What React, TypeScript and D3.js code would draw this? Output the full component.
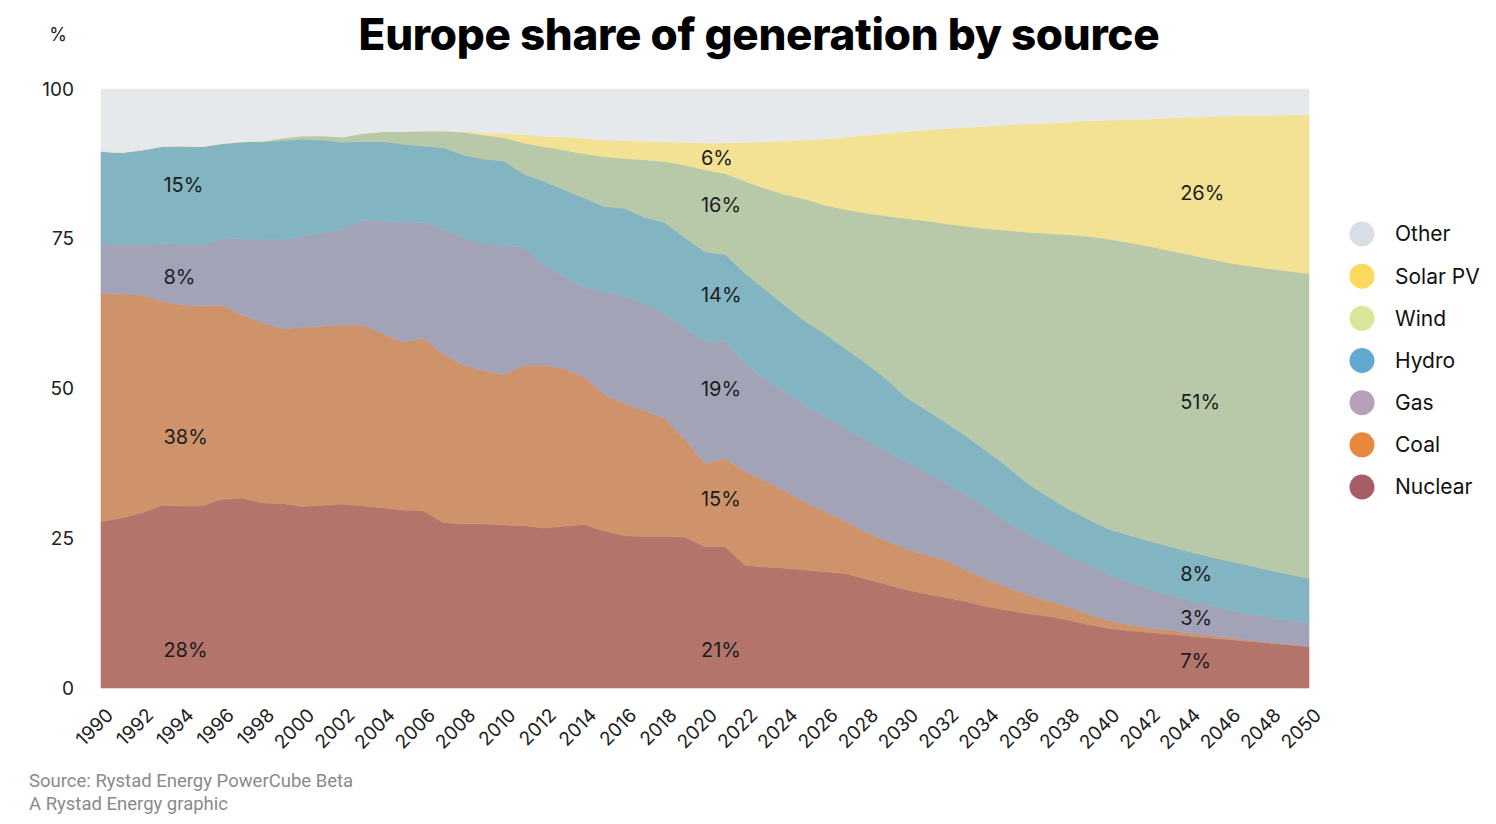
import { useEffect, useRef } from 'react'
import * as d3 from 'd3'

const years = d3.range(1990, 2051)

const nuclear = [
  27.8, 28.4, 29.2, 30.5, 30.4, 30.4, 31.5, 31.7, 30.9, 30.8, 30.3, 30.5, 30.7, 30.4, 30.1, 29.7, 29.6, 27.6, 27.4, 27.4,
  27.2, 27.1, 26.7, 27.0, 27.3, 26.2, 25.4, 25.3, 25.3, 25.2, 23.6, 23.6, 20.5, 20.2, 20.0, 19.7, 19.4, 19.1, 18.2, 17.3,
  16.4, 15.7, 15.1, 14.4, 13.6, 13.0, 12.4, 12.0, 11.4, 10.6, 10.0, 9.6, 9.3, 9.0, 8.7, 8.4, 8.1, 7.8, 7.5, 7.2, 6.9,
]
const coal = [
  38.1, 37.4, 36.4, 34.1, 33.6, 33.4, 32.4, 30.6, 30.1, 29.2, 29.9, 29.9, 29.9, 30.2, 29.1, 28.1, 28.8, 28.2, 26.5, 25.6,
  25.1, 26.8, 27.2, 26.3, 24.7, 22.8, 22.1, 21.0, 19.7, 16.3, 13.9, 14.7, 15.6, 14.4, 12.8, 11.3, 10.0, 8.7, 7.8, 7.3,
  6.8, 6.5, 6.2, 5.2, 4.6, 3.8, 3.2, 2.6, 2.2, 1.8, 1.3, 1.0, 0.8, 0.7, 0.5, 0.4, 0.3, 0.2, 0.1, 0.1, 0.1,
]
const gas = [
  8.3, 8.2, 8.4, 9.6, 10.1, 10.2, 11.2, 12.7, 13.8, 14.9, 15.2, 15.6, 16.0, 17.5, 18.8, 20.0, 19.3, 20.8, 21.3, 21.2,
  21.6, 19.7, 16.7, 15.5, 14.8, 17.2, 17.9, 17.9, 17.5, 18.7, 20.4, 19.7, 18.1, 17.0, 16.6, 16.2, 15.8, 15.6, 15.4, 15.0,
  14.6, 13.8, 12.9, 12.6, 11.8, 11.0, 10.2, 9.4, 8.6, 8.2, 7.7, 7.2, 6.5, 5.9, 5.5, 5.1, 4.7, 4.4, 4.2, 4.0, 3.8,
]
const hydro = [
  15.4, 15.4, 15.8, 16.2, 16.4, 16.4, 15.8, 16.2, 16.4, 16.5, 16.2, 15.5, 14.5, 13.1, 13.2, 13.0, 12.8, 13.6, 13.8, 14.1,
  14.1, 12.2, 14.0, 14.4, 15.0, 14.2, 14.7, 14.4, 15.2, 15.0, 14.9, 14.4, 15.0, 14.9, 14.4, 14.0, 13.8, 13.2, 12.8, 12.0,
  10.7, 10.4, 10.0, 9.8, 9.5, 9.2, 8.4, 8.0, 7.8, 7.6, 7.6, 7.8, 8.0, 8.1, 8.1, 8.1, 8.1, 8.1, 7.9, 7.7, 7.5,
]
const wind = [
  0, 0, 0, 0, 0, 0, 0, 0, 0.1, 0.4, 0.6, 0.7, 0.9, 1.4, 1.7, 2.1, 2.5, 2.8, 3.8, 4.0,
  3.9, 5.2, 5.8, 6.6, 7.4, 8.3, 8.3, 9.6, 10.2, 12.1, 13.7, 13.5, 15.4, 16.9, 18.6, 20.4, 21.6, 23.3, 25.1, 27.2,
  29.9, 31.6, 33.3, 35.1, 37.2, 39.4, 41.9, 43.9, 45.7, 47.2, 48.4, 48.8, 49.2, 49.4, 49.6, 49.7, 49.8, 50.0, 50.3, 50.6, 50.9,
]
const solar = [
  0, 0, 0, 0, 0, 0, 0, 0, 0, 0, 0, 0, 0, 0, 0, 0, 0, 0, 0.1, 0.4,
  0.7, 1.4, 1.7, 2.2, 2.6, 2.8, 3.0, 3.1, 3.3, 3.8, 4.5, 5.1, 6.5, 7.8, 8.9, 9.9, 11.1, 12.1, 13.0, 13.8,
  14.5, 15.2, 15.9, 16.5, 17.1, 17.6, 18.1, 18.4, 18.8, 19.3, 19.8, 20.5, 21.2, 22.1, 22.9, 23.7, 24.5, 25.1, 25.6, 26.1, 26.5,
]

const sources = ['Nuclear', 'Coal', 'Gas', 'Hydro', 'Wind', 'Solar PV', 'Other']
const legendOrder = ['Other', 'Solar PV', 'Wind', 'Hydro', 'Gas', 'Coal', 'Nuclear']
const yTicks = [0, 25, 50, 75, 100]
const xTicks = d3.range(1990, 2051, 2)

// in-chart value labels: text, year, share position
const annotations = [
  { text: '15%', year: 1993.1, v: 84.0 },
  { text: '8%', year: 1993.1, v: 68.6 },
  { text: '38%', year: 1993.1, v: 41.9 },
  { text: '28%', year: 1993.1, v: 6.3 },
  { text: '6%', year: 2019.8, v: 88.5 },
  { text: '16%', year: 2019.8, v: 80.6 },
  { text: '14%', year: 2019.8, v: 65.6 },
  { text: '19%', year: 2019.8, v: 50.0 },
  { text: '15%', year: 2019.8, v: 31.6 },
  { text: '21%', year: 2019.8, v: 6.3 },
  { text: '26%', year: 2043.6, v: 82.6 },
  { text: '51%', year: 2043.6, v: 47.7 },
  { text: '8%', year: 2043.6, v: 19.0 },
  { text: '3%', year: 2043.6, v: 11.7 },
  { text: '7%', year: 2043.6, v: 4.5 },
]

const areaColor: Record<string, string> = {
  Nuclear: '#b3746c',
  Coal: '#cf936b',
  Gas: '#a3a3b7',
  Hydro: '#83b4c2',
  Wind: '#b8c9aa',
  'Solar PV': '#f3e294',
  Other: '#e6e9ec',
}
const legendColor: Record<string, string> = {
  Other: '#d8dee6',
  'Solar PV': '#fcd95c',
  Wind: '#dbe69b',
  Hydro: '#62a9d0',
  Gas: '#b6a1b9',
  Coal: '#e8883f',
  Nuclear: '#a65e66',
}

const FONT = 'Inter, "Noto Sans", sans-serif'

export default function App() {
  const ref = useRef<SVGSVGElement | null>(null)
  useEffect(() => {
    const W = 1496
    const H = 824
    const svg = d3.select(ref.current).attr('width', W).attr('height', H)
    svg.selectAll('*').remove()

    const rows = years.map((yr, i) => {
      const known = nuclear[i] + coal[i] + gas[i] + hydro[i] + wind[i] + solar[i]
      return {
        year: yr,
        Nuclear: nuclear[i],
        Coal: coal[i],
        Gas: gas[i],
        Hydro: hydro[i],
        Wind: wind[i],
        'Solar PV': solar[i],
        Other: Math.max(0, 100 - known),
      } as Record<string, number>
    })

    const x = d3.scaleLinear().domain([1990, 2050]).range([101, 1309])
    const y = d3.scaleLinear().domain([0, 100]).range([688, 89])

    const stack = d3.stack<Record<string, number>>().keys(sources)
    const layers = stack(rows)

    const area = d3
      .area<any>()
      .x((d: any) => x(d.data.year))
      .y0((d: any) => y(d[0]))
      .y1((d: any) => y(d[1]))
      .curve(d3.curveLinear)

    const g = svg.append('g')
    g.selectAll('path.layer')
      .data(layers)
      .enter()
      .append('path')
      .attr('class', 'layer')
      .attr('fill', (d: any) => areaColor[d.key])
      .attr('stroke', (d: any) => areaColor[d.key])
      .attr('stroke-width', 0.6)
      .attr('d', area as any)

    // title
    svg
      .append('text')
      .attr('x', 759)
      .attr('y', 50)
      .attr('text-anchor', 'middle')
      .attr('font-family', FONT)
      .attr('font-weight', 800)
      .attr('font-size', 44)
      .attr('letter-spacing', -0.3)
      .attr('fill', '#000')
      .text('Europe share of generation by source')

    svg
      .append('text')
      .attr('x', 58)
      .attr('y', 41)
      .attr('text-anchor', 'middle')
      .attr('font-family', FONT)
      .attr('font-size', 18)
      .attr('fill', '#222')
      .text('%')

    // y axis labels
    svg
      .append('g')
      .selectAll('text')
      .data(yTicks)
      .enter()
      .append('text')
      .attr('x', 74)
      .attr('y', (d: number) => y(d))
      .attr('dy', '0.35em')
      .attr('text-anchor', 'end')
      .attr('font-family', FONT)
      .attr('font-size', 19)
      .attr('fill', '#222')
      .text((d: number) => String(d))

    // x axis labels, rotated
    svg
      .append('g')
      .selectAll('text')
      .data(xTicks)
      .enter()
      .append('text')
      .attr('transform', (d: number) => `translate(${x(d) + 4},${707}) rotate(-45)`)
      .attr('text-anchor', 'end')
      .attr('dy', '0.7em')
      .attr('font-family', FONT)
      .attr('font-size', 19)
      .attr('fill', '#222')
      .text((d: number) => String(d))

    // value labels
    svg
      .append('g')
      .selectAll('text')
      .data(annotations)
      .enter()
      .append('text')
      .attr('x', (d) => x(d.year))
      .attr('y', (d) => y(d.v))
      .attr('dy', '0.35em')
      .attr('font-family', FONT)
      .attr('font-size', 20)
      .attr('fill', '#1c1c1c')
      .text((d) => d.text)

    // legend
    const leg = svg.append('g')
    const ly = d3.scalePoint<string>().domain(legendOrder).range([234, 487])
    legendOrder.forEach((k) => {
      leg.append('circle').attr('cx', 1362).attr('cy', ly(k)!).attr('r', 12.5).attr('fill', legendColor[k])
      leg
        .append('text')
        .attr('x', 1395)
        .attr('y', ly(k)!)
        .attr('dy', '0.35em')
        .attr('font-family', FONT)
        .attr('font-size', 21)
        .attr('fill', '#111')
        .text(k)
    })

    // footer
    const foot = ['Source: Rystad Energy PowerCube Beta', 'A Rystad Energy graphic']
    foot.forEach((t, i) => {
      svg
        .append('text')
        .attr('x', 29)
        .attr('y', 787 + i * 23)
        .attr('font-family', 'Roboto, sans-serif')
        .attr('font-size', 18.5)
        .attr('fill', '#8a8a8a')
        .text(t)
    })
  }, [])
  return <svg ref={ref} style={{ position: 'absolute', left: 0, top: 0, background: '#fff' }} />
}
